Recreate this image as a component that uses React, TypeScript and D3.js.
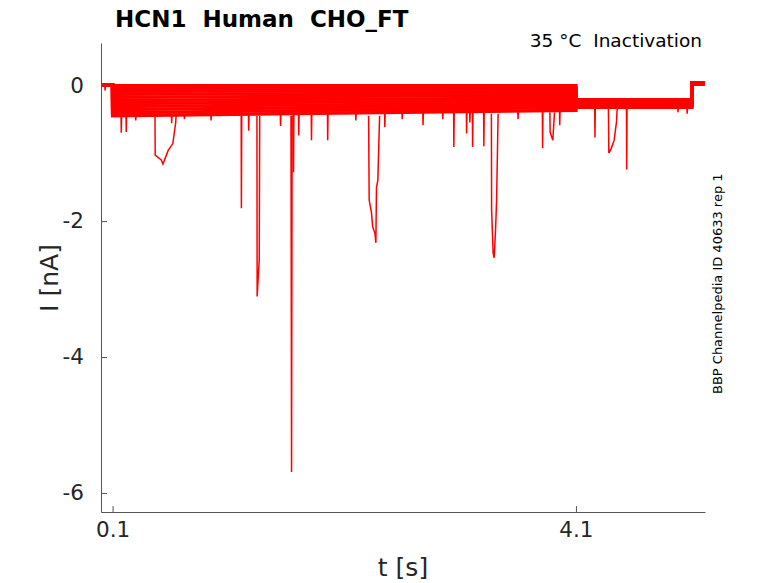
// HCN1 失活电流记录图
import React, { useRef, useEffect } from 'react';
import * as d3 from 'd3';

// 每条扫描在 0.1 s 与 4.1 s 处的电流 (nA)
const sweepStart = [-0.01, -0.05, -0.09, -0.135, -0.18, -0.225, -0.27, -0.315, -0.36, -0.405, -0.45];
const sweepEnd = [-0.01, -0.045, -0.08, -0.115, -0.15, -0.19, -0.225, -0.26, -0.295, -0.33, -0.37];
// 4.1 s 之后的测试脉冲电流
const sweepTail = [-0.215, -0.226, -0.237, -0.248, -0.259, -0.27, -0.281, -0.292, -0.303, -0.314, -0.325];
// 5.1 s 之后回到保持电位
const sweepFinal = [0.035, 0.033, 0.031, 0.029, 0.027, 0.025, 0.023, 0.021, 0.019, 0.017, 0.015];
// 阶跃时间 (s)
const stepTimes = [0, 0.1, 4.1, 5.1, 5.21];
const holdLevel = 0;

// 细小尖峰 [t, 最低电流]
const spikes: [number, number][] = [
  [0.035, -0.08], [0.175, -0.7], [0.218, -0.69], [0.3, -0.52], [0.61, -0.56], [0.72, -0.5],
  [0.95, -0.52], [1.212, -1.81], [1.275, -0.67], [1.55, -0.6], [1.662, -1.28], [1.707, -0.74],
  [1.817, -0.81], [1.957, -0.81], [2.2, -0.52], [2.45, -0.62], [2.6, -0.5], [2.78, -0.59],
  [2.95, -0.5], [3.046, -0.91], [3.156, -0.71], [3.184, -0.55], [3.208, -0.91], [3.305, -0.9],
  [3.6, -0.5], [3.812, -0.93], [3.96, -0.59], [4.264, -0.77], [4.538, -1.24], [4.981, -0.4],
  [5.06, -0.42],
];

// 较宽的电流凹陷 [t, I]
const humps: [number, number][][] = [
  [[0.466, -0.45], [0.468, -1.03], [0.52, -1.1], [0.535, -1.16], [0.58, -0.96], [0.62, -0.86], [0.645, -0.55], [0.648, -0.45]],
  [[1.346, -0.45], [1.348, -3.11], [1.366, -2.57], [1.37, -0.45]],
  [[1.64, -0.45], [1.645, -5.69], [1.65, -0.45]],
  [[2.31, -0.45], [2.315, -1.69], [2.335, -1.88], [2.345, -2.08], [2.365, -2.18], [2.373, -2.32], [2.378, -1.5], [2.39, -1.4], [2.405, -0.45]],
  [[3.37, -0.42], [3.372, -1.84], [3.377, -2.08], [3.385, -2.47], [3.394, -2.54], [3.406, -2.13], [3.415, -1.69], [3.428, -0.42]],
  [[3.875, -0.4], [3.877, -0.69], [3.9, -0.81], [3.915, -0.4]],
  [[4.38, -0.34], [4.384, -1.0], [4.405, -0.93], [4.43, -0.81], [4.45, -0.54], [4.456, -0.34]],
];

const yTicks = [-6, -4, -2, 0];
const xTicks = [0.1, 4.1];

const width = 778;
const height = 583;
const marginTop = 43;
const marginRight = 73;
const marginBottom = 71;
const marginLeft = 101;
const font = 'DejaVu Sans, sans-serif';

const App: React.FC = () => {
  const svgRef = useRef<SVGSVGElement>(null);

  useEffect(() => {
    if (!svgRef.current) return;
    const svg = d3.select(svgRef.current);
    svg.selectAll('*').remove();

    const xScale = d3.scaleLinear().domain([0, 5.214]).range([marginLeft, width - marginRight]);
    const yScale = d3.scaleLinear().domain([-6.28, 0.62]).range([height - marginBottom, marginTop]);

    const line = d3.line<[number, number]>()
      .x(d => xScale(d[0]))
      .y(d => yScale(d[1]));

    // 扫描曲线
    const sweeps = sweepStart.map((s, i) => [
      [stepTimes[0], holdLevel], [stepTimes[1], holdLevel],
      [stepTimes[1], s], [stepTimes[2], sweepEnd[i]],
      [stepTimes[2], sweepTail[i]], [stepTimes[3], sweepTail[i]],
      [stepTimes[3], sweepFinal[i]], [stepTimes[4], sweepFinal[i]],
    ] as [number, number][]);

    svg.append('g')
      .selectAll('path')
      .data(sweeps)
      .join('path')
      .attr('d', d => line(d))
      .attr('fill', 'none')
      .attr('stroke', '#ff0000')
      .attr('stroke-width', 3.4);

    // 尖峰的基线取最低的扫描
    const lowest = d3.scaleLinear()
      .domain([stepTimes[1], stepTimes[2]])
      .range([sweepStart[sweepStart.length - 1], sweepEnd[sweepEnd.length - 1]]);
    const base = (t: number) =>
      t < stepTimes[1] ? holdLevel : t < stepTimes[2] ? lowest(t) : sweepTail[sweepTail.length - 1];

    const spikePaths = spikes.map(([t, v]) => [
      [t - 0.002, base(t)], [t, v], [t + 0.003, base(t)],
    ] as [number, number][]);

    svg.append('g')
      .selectAll('path')
      .data([...spikePaths, ...humps])
      .join('path')
      .attr('d', d => line(d))
      .attr('fill', 'none')
      .attr('stroke', '#ff0000')
      .attr('stroke-width', 1.5);

    // 坐标轴
    const yAxis = d3.axisLeft(yScale).tickValues(yTicks).tickSize(-6).tickSizeOuter(0).tickPadding(17)
      .tickFormat(d => String(d));
    const xAxis = d3.axisBottom(xScale).tickValues(xTicks).tickSize(-6).tickSizeOuter(0).tickPadding(10)
      .tickFormat(d => String(d));

    const gy = svg.append('g').attr('transform', `translate(${marginLeft},0)`).call(yAxis);
    const gx = svg.append('g').attr('transform', `translate(0,${height - marginBottom})`).call(xAxis);
    [gx, gy].forEach(g => {
      g.select('.domain').attr('stroke', '#555');
      g.selectAll('.tick line').attr('stroke', '#555');
      g.selectAll('.tick text')
        .attr('fill', '#262626')
        .style('font-family', font)
        .style('font-size', '21.5px');
    });

    // 轴标题
    svg.append('text')
      .attr('x', (marginLeft + width - marginRight) / 2)
      .attr('y', 576)
      .attr('text-anchor', 'middle')
      .attr('fill', '#262626')
      .style('font-family', font)
      .style('font-size', '25px')
      .text('t [s]');

    svg.append('text')
      .attr('transform', 'translate(58,278) rotate(-90)')
      .attr('text-anchor', 'middle')
      .attr('fill', '#262626')
      .style('font-family', font)
      .style('font-size', '25px')
      .text('I [nA]');

    // 标题与注释
    svg.append('text')
      .attr('x', 115)
      .attr('y', 27)
      .attr('fill', '#000')
      .style('font-family', font)
      .style('font-size', '23px')
      .style('font-weight', 'bold')
      .style('white-space', 'pre')
      .text('HCN1  Human  CHO_FT');

    svg.append('text')
      .attr('x', 702)
      .attr('y', 47)
      .attr('text-anchor', 'end')
      .attr('fill', '#000')
      .style('font-family', font)
      .style('font-size', '18.5px')
      .style('white-space', 'pre')
      .text('35 °C  Inactivation');

    svg.append('text')
      .attr('transform', 'translate(722,394) rotate(-90)')
      .attr('fill', '#000')
      .style('font-family', font)
      .style('font-size', '13px')
      .text('BBP Channelpedia ID 40633 rep 1');
  }, []);

  return (
    <svg
      ref={svgRef}
      width={width}
      height={height}
      style={{ position: 'absolute', left: 0, top: 0, background: '#fff' }}
    />
  );
};

export default App;
